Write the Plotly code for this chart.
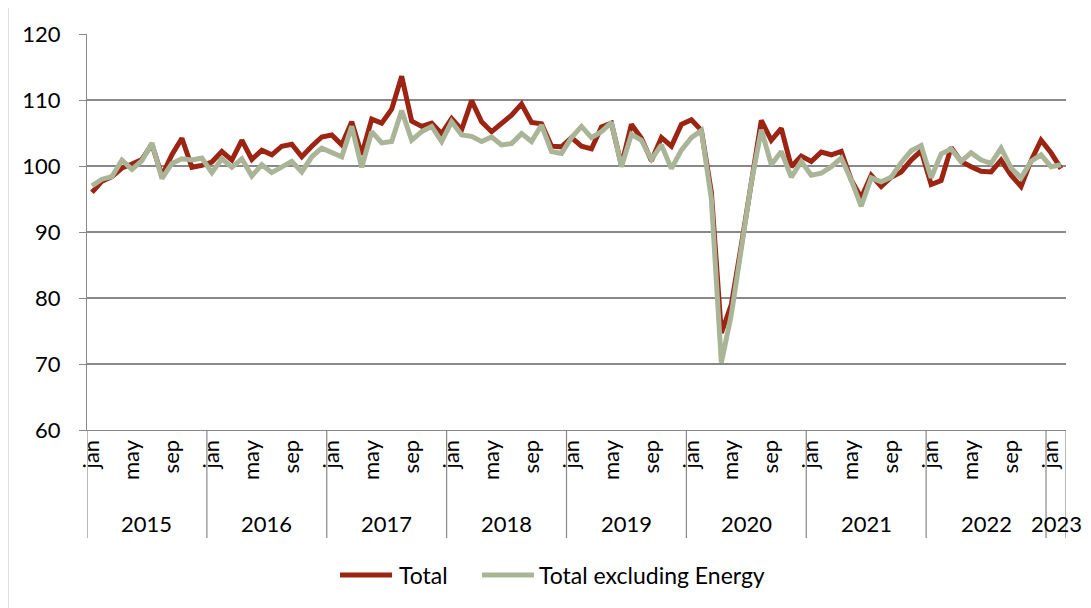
import plotly.graph_objects as go

years = ["2015", "2016", "2017", "2018", "2019", "2020", "2021", "2022", "2023"]
month_names = ["jan", "feb", "mar", "apr", "may", "jun", "jul", "aug", "sep", "oct", "nov", "dec"]
shown_months = ["jan", "may", "sep"]
series_names = ["Total", "Total excluding Energy"]

total = [
    96.0, 97.7, 98.4, 99.7, 100.3, 101.0, 103.3, 98.5, 101.7, 104.2, 99.8, 100.1,
    100.6, 102.2, 100.9, 103.9, 101.0, 102.4, 101.7, 103.0, 103.3, 101.4, 103.0, 104.4,
    104.7, 103.2, 106.7, 101.7, 107.1, 106.5, 108.6, 113.6, 106.8, 106.0, 106.5, 104.9,
    107.2, 105.5, 109.9, 106.7, 105.2, 106.5, 107.7, 109.4, 106.6, 106.4, 103.0, 102.9,
    104.3, 103.0, 102.6, 105.9, 106.5, 100.1, 106.3, 104.2, 100.8, 104.3, 103.0, 106.3,
    107.0, 105.4, 96.0, 74.7, 79.0, 88.0, 98.0, 106.9, 103.9, 105.7, 99.9, 101.5,
    100.7, 102.1, 101.7, 102.2, 97.9, 95.2, 98.6, 96.9, 98.3, 99.1, 100.9, 102.3,
    97.2, 97.8, 102.8, 100.7, 99.9, 99.2, 99.1, 100.9, 98.6, 96.9, 100.8, 103.9,
    102.0, 99.6,
]

total_ex_energy = [
    97.0, 98.0, 98.4, 100.9, 99.5, 100.8, 103.5, 98.1, 100.4, 101.1, 100.9, 101.2,
    99.0, 101.1, 99.8, 101.1, 98.5, 100.2, 99.0, 99.9, 100.7, 99.1, 101.4, 102.7,
    102.1, 101.4, 106.0, 99.8, 105.2, 103.5, 103.7, 108.4, 103.9, 105.2, 106.0, 103.7,
    106.7, 104.7, 104.5, 103.7, 104.4, 103.2, 103.4, 104.9, 103.7, 106.2, 102.2, 101.9,
    104.3, 106.0, 104.3, 105.2, 106.6, 99.9, 104.8, 103.9, 101.0, 103.2, 99.6, 102.4,
    104.3, 105.4, 95.0, 70.2, 77.5, 87.0, 97.5, 105.5, 100.2, 102.2, 98.3, 100.7,
    98.6, 98.9, 99.9, 101.2, 97.9, 93.9, 98.2, 97.6, 98.3, 100.5, 102.3, 103.1,
    98.2, 101.8, 102.6, 100.7, 102.0, 100.9, 100.4, 102.7, 99.7, 98.2, 100.7, 101.7,
    99.9, 100.2,
]

n = len(total)
idx = list(range(n))
month_of = [month_names[i % 12] for i in idx]
year_of = [years[i // 12] for i in idx]

tickvals = [i for i in idx if month_of[i] in shown_months]
ticktext = [month_of[i] for i in tickvals]

FONT = "Lato, 'Open Sans', sans-serif"
FS = 22
RED = "#9b2412"
GREEN = "#a9b596"
GRID = "#888888"
colors = [RED, GREEN]

fig = go.Figure()
for name, vals, col in zip(series_names, [total, total_ex_energy], colors):
    fig.add_trace(go.Scatter(x=idx, y=vals, mode="lines", name=name,
                             line=dict(color=col, width=5)))

plot_h = 396.0
plot_w = 979.0


def px_x(px):
    return (px - 87) / plot_w


def px_y(py):
    return (430 - py) / plot_h


sep_bottom = px_y(538)

for yr in years:
    members = [i for i in idx if year_of[i] == yr]
    x0 = members[0] - 0.5
    fig.add_shape(type="line", xref="x", yref="paper", x0=x0, x1=x0, y0=0, y1=sep_bottom,
                  line=dict(color=GRID, width=1.2))
    fig.add_annotation(x=(members[0] + members[-1]) / 2, y=px_y(523),
                       xref="x", yref="paper", text=yr, showarrow=False,
                       font=dict(family=FONT, size=FS, color="#000000"),
                       xanchor="center", yanchor="middle")
fig.add_shape(type="line", xref="x", yref="paper", x0=n - 0.5, x1=n - 0.5, y0=0, y1=sep_bottom,
              line=dict(color=GRID, width=1.2))

# outer chart frame (left edge visible in reference)
fig.add_shape(type="line", xref="paper", yref="paper",
              x0=px_x(8), x1=px_x(8), y0=px_y(620), y1=px_y(-10),
              line=dict(color="#bfbfbf", width=1))

# legend drawn as line samples + text
legend_items = [(340, 392, 397), (482, 534, 537)]
for (lx0, lx1, tx), name, col in zip(legend_items, series_names, colors):
    fig.add_shape(type="line", xref="paper", yref="paper", x0=px_x(lx0), x1=px_x(lx1),
                  y0=px_y(575), y1=px_y(575), line=dict(color=col, width=5))
    fig.add_annotation(x=px_x(tx), y=px_y(575), xref="paper", yref="paper", text=name,
                       showarrow=False, xanchor="left", yanchor="middle",
                       font=dict(family=FONT, size=23, color="#000000"))

fig.update_layout(
    width=1091, height=608,
    margin=dict(l=79, r=33, t=26, b=186),
    paper_bgcolor="white", plot_bgcolor="white",
    font=dict(family=FONT, size=FS, color="#000000"),
    showlegend=False,
    xaxis=dict(range=[-0.5, n - 0.5], tickmode="array", tickvals=tickvals, ticktext=ticktext,
               tickangle=-90, showgrid=False, zeroline=False, showline=True,
               linecolor=GRID, linewidth=1.2, ticks="",
               tickfont=dict(family=FONT, size=FS, color="#000000")),
    yaxis=dict(range=[60, 120], dtick=10, tick0=60, showgrid=True, gridcolor=GRID, gridwidth=1.5,
               zeroline=False, showline=True, linecolor=GRID, linewidth=1.2,
               ticks="outside", ticklen=7, tickcolor=GRID, ticklabelstandoff=14,
               tickfont=dict(family=FONT, size=FS, color="#000000")),
)

fig.write_html("out.html")
